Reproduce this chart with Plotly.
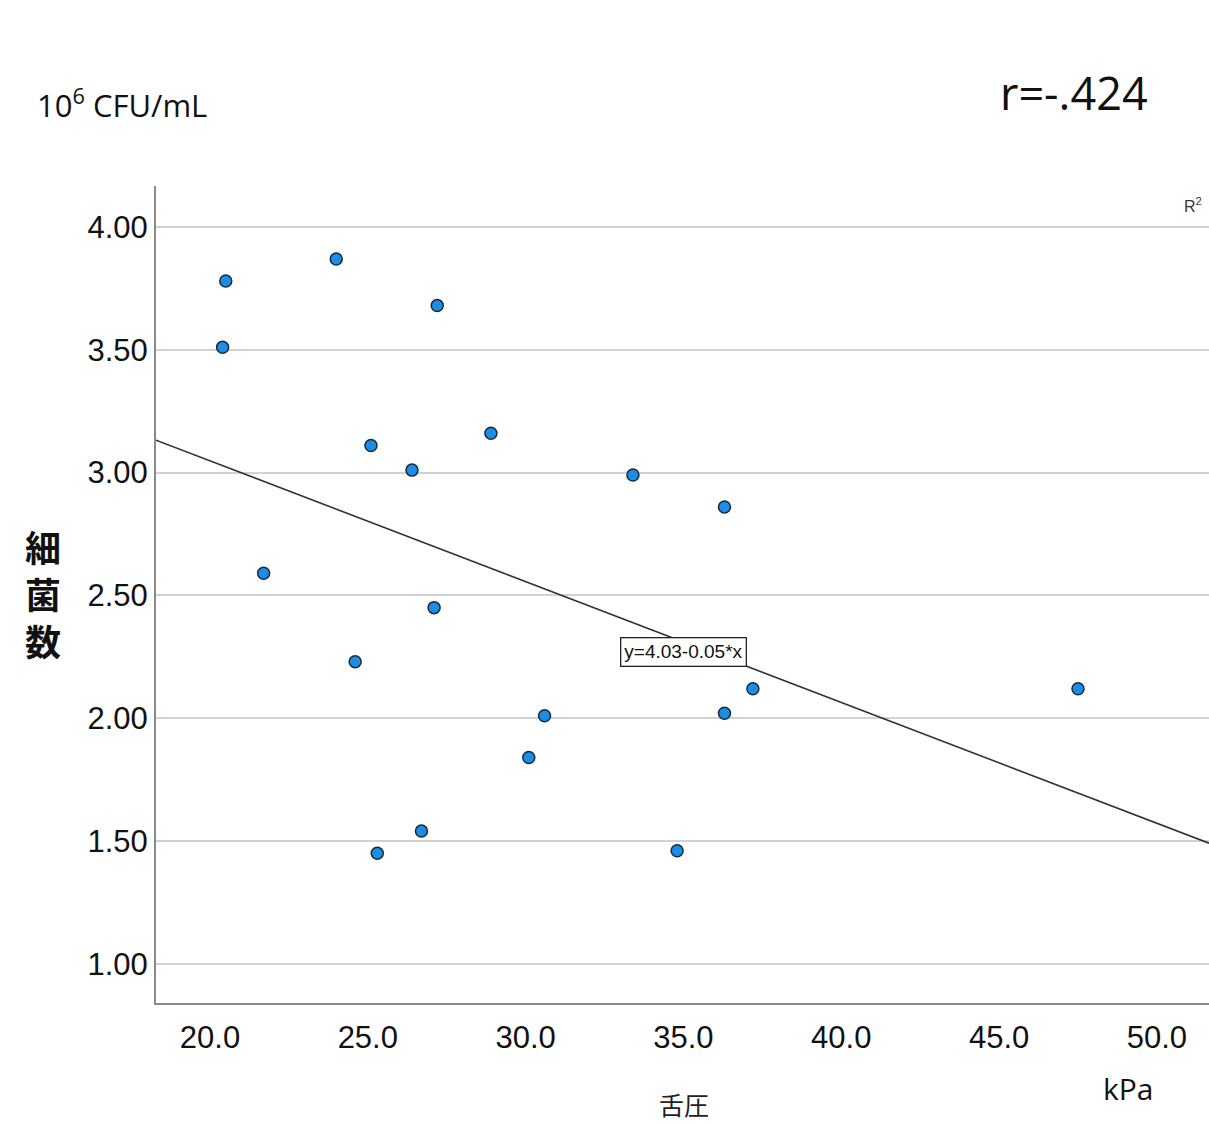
import plotly.graph_objects as go
import numpy as np

# Data
tongue_pressure_kpa = [20.5, 20.4, 24.0, 27.2, 21.7, 25.1, 26.4, 28.9, 33.4, 36.3,
                       27.1, 24.6, 30.6, 30.1, 36.3, 37.2, 47.5, 26.7, 25.3, 34.8]
bacteria_count = [3.78, 3.51, 3.87, 3.68, 2.59, 3.11, 3.01, 3.16, 2.99, 2.86,
                  2.45, 2.23, 2.01, 1.84, 2.02, 2.12, 2.12, 1.54, 1.45, 1.46]
fit_intercept = 4.032
fit_slope = -0.0492
x_ticks = [20, 25, 30, 35, 40, 45, 50]
y_ticks = [1.0, 1.5, 2.0, 2.5, 3.0, 3.5, 4.0]
y_title_chars = ["細", "菌", "数"]

W, H = 1209, 1125
L, R, T, B = 156, 0, 186, 122
x_range = [18.29, 51.65]
y_range = [0.84, 4.167]

def px(xp):
    return (xp - L) / (W - L - R)

def py(yp):
    return (H - B - yp) / (H - T - B)

fig = go.Figure()

line_x = np.array(x_range)
fig.add_trace(go.Scatter(
    x=line_x, y=fit_intercept + fit_slope * line_x,
    mode="lines", line=dict(color="#333333", width=1.6),
    hoverinfo="skip", showlegend=False))

fig.add_trace(go.Scatter(
    x=tongue_pressure_kpa, y=bacteria_count, mode="markers",
    marker=dict(size=12, color="#1a8ee6", line=dict(color="#1a2a3a", width=1.5)),
    showlegend=False))

axis_font = dict(family="Liberation Sans, Arial, sans-serif", size=31, color="#111111")

fig.update_xaxes(range=x_range, tickvals=x_ticks, tickformat=".1f",
                 showgrid=False, zeroline=False, showline=True, automargin=False,
                 linecolor="#8a8a8a", linewidth=2, ticks="", tickfont=axis_font,
                 ticklabelstandoff=6)
fig.update_yaxes(range=y_range, tickvals=y_ticks, tickformat=".2f",
                 showgrid=True, gridcolor="#d2d2d2", gridwidth=2, zeroline=False,
                 showline=True, linecolor="#8a8a8a", linewidth=2, ticks="",
                 automargin=False, tickfont=axis_font, ticklabelstandoff=0)

def paper_text(text, x, y, font):
    return dict(text=text, x=px(x), y=py(y), xref="paper", yref="paper",
                xanchor="center", yanchor="middle", showarrow=False, font=font)

annotations = [
    dict(text="y=4.03-0.05*x", x=34.99, y=2.27, xref="x", yref="y",
         xanchor="center", yanchor="middle",
         showarrow=False, bordercolor="#222222", borderwidth=1.3, borderpad=3,
         bgcolor="white",
         font=dict(family="Liberation Sans, Arial", size=19, color="#111111")),
    paper_text("R<sup>2</sup>", 1193, 205,
               dict(family="Liberation Sans, Arial", size=16, color="#333333")),
    paper_text("10<sup>6</sup> CFU/mL", 122, 103,
               dict(family="Open Sans, Lato, sans-serif", size=31, color="#111111")),
    paper_text("r=-.424", 1074, 93,
               dict(family="Open Sans, Lato, sans-serif", size=45, color="#111111")),
    paper_text("舌圧", 684, 1104,
               dict(family="Noto Sans CJK JP", size=25, color="#222222")),
    paper_text("kPa", 1128, 1088,
               dict(family="Open Sans, Lato, sans-serif", size=30, color="#111111")),
]
for i, ch in enumerate(y_title_chars):
    annotations.append(paper_text(f"<b>{ch}</b>", 43, 546 + 47 * i,
                                  dict(family="Noto Sans CJK JP", size=36, color="#111111")))

fig.update_layout(
    width=W, height=H, autosize=False,
    margin=dict(l=L, r=R, t=T, b=B),
    paper_bgcolor="white", plot_bgcolor="white",
    annotations=annotations,
)

fig.write_html(
    "out.html",
    config={"responsive": False, "displayModeBar": False},
    post_script="document.body.style.margin='0';document.body.style.overflow='hidden';",
)
